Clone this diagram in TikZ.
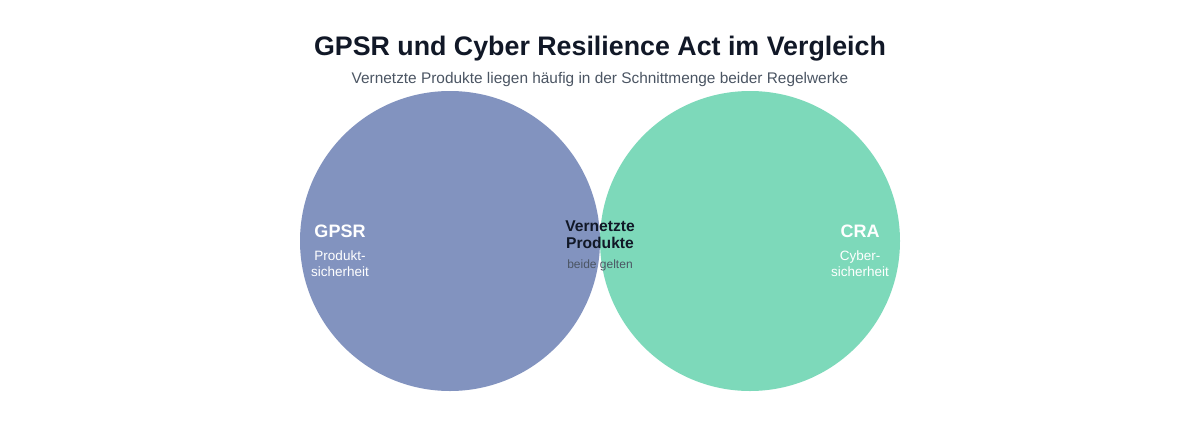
\documentclass[tikz,border=0pt]{standalone}
\usepackage{fontspec}
\setmainfont{Liberation Sans}
\definecolor{ink}{HTML}{111827}
\definecolor{sub}{HTML}{4B5563}
\definecolor{gpsrc}{HTML}{8293BF}
\definecolor{crac}{HTML}{7DD9BA}
\begin{document}
\begin{tikzpicture}[x=1pt,y=-1pt,
  venn/.style={circle,minimum size=300pt,inner sep=0pt,draw=none},
  setlbl/.style={font=\bfseries\fontsize{18}{20}\selectfont,text=white},
  setsub/.style={font=\fontsize{13.5}{16}\selectfont,text=white,align=center},
  midlbl/.style={font=\bfseries\fontsize{15.6}{17}\selectfont,text=ink,align=center},
  midsub/.style={font=\fontsize{12}{13}\selectfont,text=sub}]
\useasboundingbox (0,0) rectangle (1200,424);
\fill[white] (0,0) rectangle (1200,424);
\node[font=\bfseries\fontsize{26.8}{30}\selectfont,text=ink] (title) at (600,49) {GPSR und Cyber Resilience Act im Vergleich};
\node[font=\fontsize{15.4}{18}\selectfont,text=sub] (subtitle) at (600,80) {Vernetzte Produkte liegen häufig in der Schnittmenge beider Regelwerke};
\node[venn,fill=gpsrc] (gpsr) at (450,241) {};
\node[venn,fill=crac] (cra) at (750,241) {};
\node[setlbl] (gpsrl) at (340,231) {GPSR};
\node[setsub] (gpsrs) at (340,264) {Produkt-\\sicherheit};
\node[setlbl] (cral) at (860,231) {CRA};
\node[setsub] (cras) at (860,264) {Cyber-\\sicherheit};
\node[midlbl] (mid) at (600,235) {Vernetzte\\Produkte};
\node[midsub] (mids) at (600,265) {beide gelten};
\end{tikzpicture}
\end{document}
